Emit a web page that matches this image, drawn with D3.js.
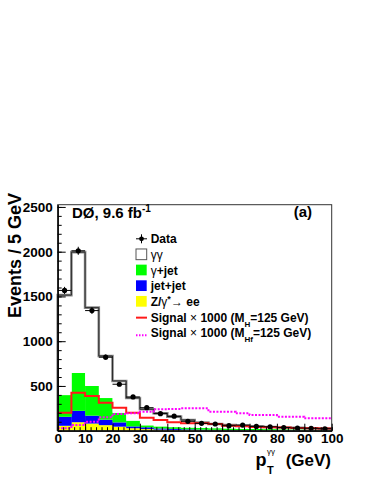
<!DOCTYPE html>
<html>
<head>
<meta charset="utf-8">
<script src="https://cdn.jsdelivr.net/npm/d3@7"></script>
<style>
  body { margin: 0; background: #fff; }
  svg { display: block; font-family: 'Liberation Sans', Arial, sans-serif; }
</style>
</head>
<body>
<div id="graf"></div>
<script>
// bin lower edges (GeV), 5 GeV wide bins
binEdges = [0,5,10,15,20,25,30,35,40,45,50,55,60,65,70,75,80,85,90,95]
binWidth = 5

// stacked backgrounds (events / bin)
zee     = [55, 95, 80, 62, 45, 28, 18, 12, 9, 7, 5, 4, 3, 3, 2, 2, 2, 1, 1, 1]
jetjet  = [100, 127, 88, 61, 48, 20, 20, 13, 11, 8, 7, 6, 5, 4, 4, 3, 3, 3, 3, 2]
gjet    = [243, 423, 332, 242, 107, 64, 22, 23, 20, 20, 18, 18, 17, 15, 14, 13, 11, 11, 9, 9]
gg      = [1117, 1350, 875, 470, 356, 254, 179, 147, 117, 85, 60, 47, 37, 33, 28, 24, 20, 17, 15, 13]

// data
dataVals = [1567, 2010, 1342, 821, 519, 377, 257, 190, 162, 105, 82, 75, 56, 63, 48, 44, 35, 30, 27, 22]
dataErr  = [40, 45, 37, 29, 23, 19, 16, 14, 13, 10, 9, 9, 7, 8, 7, 7, 6, 5, 5, 5]

// signals x 1000
sigH  = [201, 425, 388, 313, 257, 201, 145, 120, 94, 83, 83, 75, 55, 50, 42, 38, 35, 30, 28, 25]
sigHf = [27, 64, 101, 150, 187, 195, 213, 239, 243, 250, 250, 213, 213, 195, 175, 175, 157, 157, 139, 139]

yMajor = [500, 1000, 1500, 2000, 2500]
xMajor = [0, 10, 20, 30, 40, 50, 60, 70, 80, 90, 100]

ancho_total = 374
alto_total = 484

svg = d3.select('#graf').append('svg')
    .attr('width', ancho_total)
    .attr('height', alto_total)

svg.append('rect').attr('width', ancho_total).attr('height', alto_total).attr('fill', '#fff')

x = d3.scaleLinear().domain([0, 100]).range([57.7, 331.7])
y = d3.scaleLinear().domain([0, 2525]).range([430.7, 204.7])

// tabla para el stack
tabla = binEdges.map((e, i) => ({lo: e, zee: zee[i], jetjet: jetjet[i], gjet: gjet[i], gg: gg[i]}))
keys = ['zee', 'jetjet', 'gjet', 'gg']
colores = {zee: '#ffff00', jetjet: '#0000ff', gjet: '#00ff00', gg: '#ffffff'}
series = d3.stack().keys(keys)(tabla)

g = svg.append('g')

series.forEach(s => {
    g.selectAll(null)
     .data(s)
     .enter()
     .append('rect')
        .attr('x', d => x(d.data.lo))
        .attr('width', d => x(d.data.lo + binWidth) - x(d.data.lo) + 0.3)
        .attr('y', d => y(d[1]))
        .attr('height', d => y(d[0]) - y(d[1]))
        .attr('fill', colores[s.key])
})

// step helper
function pasos(vals) {
    pts = []
    vals.forEach((v, i) => {
        pts.push([binEdges[i], v])
        pts.push([binEdges[i] + binWidth, v])
    })
    return pts
}
linea = d3.line().x(d => x(d[0])).y(d => y(d[1]))

total = tabla.map(d => d.zee + d.jetjet + d.gjet + d.gg)
totPts = [[0, 0]].concat(pasos(total)).concat([[100, 0]])
g.append('path').attr('d', linea(totPts)).attr('fill', 'none')
 .attr('stroke', '#8a8a8a').attr('stroke-width', 2.6)
g.append('path').attr('d', linea(totPts)).attr('fill', 'none')
 .attr('stroke', '#222').attr('stroke-width', 0.9)

g.append('path').attr('d', linea(pasos(sigH))).attr('fill', 'none')
 .attr('stroke', '#ff1a1a').attr('stroke-width', 2)
g.append('path').attr('d', linea(pasos(sigHf))).attr('fill', 'none')
 .attr('stroke', '#ff00ff').attr('stroke-width', 2).attr('stroke-dasharray', '2,1.5')

// datos
puntos = g.selectAll('.pt').data(binEdges.map((e, i) => ({lo: e, v: dataVals[i], err: dataErr[i]})))
    .enter().append('g').attr('class', 'pt')
puntos.append('line')
    .attr('x1', d => x(d.lo)).attr('x2', d => x(d.lo + binWidth))
    .attr('y1', d => y(d.v)).attr('y2', d => y(d.v))
    .attr('stroke', '#000').attr('stroke-width', 1)
puntos.append('line')
    .attr('x1', d => x(d.lo + binWidth / 2)).attr('x2', d => x(d.lo + binWidth / 2))
    .attr('y1', d => y(d.v - d.err)).attr('y2', d => y(d.v + d.err))
    .attr('stroke', '#000').attr('stroke-width', 1)
puntos.append('circle')
    .attr('cx', d => x(d.lo + binWidth / 2)).attr('cy', d => y(d.v))
    .attr('r', 2.6).attr('fill', '#000')

// marco
svg.append('rect')
    .attr('x', x(0)).attr('y', y(2525))
    .attr('width', x(100) - x(0)).attr('height', y(0) - y(2525))
    .attr('fill', 'none').attr('stroke', '#333').attr('stroke-width', 1)

// ejes
ejeY = d3.axisLeft(y).tickValues(yMajor).tickFormat(d3.format('d')).tickSizeInner(-8).tickSizeOuter(0).tickPadding(5)
ejeYm = d3.axisLeft(y).tickValues(d3.range(0, 2525, 100)).tickSizeInner(-4).tickSizeOuter(0).tickFormat('')
ejeX = d3.axisBottom(x).tickValues(xMajor).tickFormat(d3.format('d')).tickSizeInner(-7).tickSizeOuter(0).tickPadding(3)
ejeXm = d3.axisBottom(x).tickValues(d3.range(0, 101, 2)).tickSizeInner(-3.5).tickSizeOuter(0).tickFormat('')

function estilo(sel) {
    sel.select('.domain').attr('stroke', '#000')
    sel.selectAll('.tick line').attr('stroke', '#000')
    sel.selectAll('text').attr('font-family', "'Liberation Sans', Arial, sans-serif")
       .attr('font-weight', 'bold').attr('font-size', 13.5).attr('fill', '#000')
}
svg.append('g').attr('transform', `translate(${x(0)},0)`).call(ejeYm).call(estilo)
svg.append('g').attr('transform', `translate(${x(0)},0)`).call(ejeY).call(estilo)
svg.append('g').attr('transform', `translate(0,${y(0)})`).call(ejeXm).call(estilo)
svg.append('g').attr('transform', `translate(0,${y(0)})`).call(ejeX).call(estilo)

// titulos de ejes
svg.append('text')
    .attr('transform', 'translate(20.5,193) rotate(-90)')
    .attr('text-anchor', 'end')
    .attr('font-weight', 'bold').attr('font-size', 18)
    .text('Events / 5 GeV')

xt = svg.append('text').attr('font-weight', 'bold')
xt.append('tspan').attr('x', 255.5).attr('y', 465.7).attr('font-size', 18).text('p')
xt.append('tspan').attr('x', 267).attr('y', 474).attr('font-size', 11).text('T')
xt.append('tspan').attr('x', 267).attr('y', 454).attr('font-size', 8).attr('font-weight', 'normal').text('γγ')
svg.append('text').attr('x', 331).attr('y', 465.7).attr('text-anchor', 'end')
    .attr('font-weight', 'bold').attr('font-size', 17).text('(GeV)')

// textos dentro
lab = svg.append('text').attr('x', 72).attr('y', 218)
    .attr('font-weight', 'bold').attr('font-size', 15)
lab.append('tspan').text('DØ, 9.6 fb')
lab.append('tspan').attr('dy', -6).attr('font-size', 10).text('-1')

svg.append('text').attr('x', 312).attr('y', 217).attr('text-anchor', 'end')
    .attr('font-weight', 'bold').attr('font-size', 15).text('(a)')

// leyenda
legX = 136, legTxt = 150.7, legY0 = 243.3, legDy = 15.67
leg = svg.append('g').attr('font-size', 12).attr('font-weight', 'bold')

function fila(i) { return legY0 + i * legDy }

// Data
leg.append('line').attr('x1', legX).attr('x2', legX + 11).attr('y1', fila(0) - 4.5).attr('y2', fila(0) - 4.5).attr('stroke', '#000')
leg.append('line').attr('x1', legX + 5.5).attr('x2', legX + 5.5).attr('y1', fila(0) - 9).attr('y2', fila(0)).attr('stroke', '#000')
leg.append('circle').attr('cx', legX + 5.5).attr('cy', fila(0) - 4.5).attr('r', 2.4).attr('fill', '#000')
leg.append('text').attr('x', legTxt).attr('y', fila(0)).text('Data')

cajas = [['gg', '#ffffff'], ['gjet', '#00ff00'], ['jetjet', '#0000ff'], ['zee', '#ffff00']]
cajas.forEach((c, k) => {
    leg.append('rect').attr('x', legX).attr('y', fila(k + 1) - 10).attr('width', 10.7).attr('height', 10.7)
       .attr('fill', c[1]).attr('stroke', c[0] == 'gg' ? '#555' : 'none').attr('stroke-width', 1)
})

t = leg.append('text').attr('x', legTxt).attr('y', fila(1))
t.append('tspan').attr('font-weight', 'normal').text('γγ')

t = leg.append('text').attr('x', legTxt).attr('y', fila(2))
t.append('tspan').attr('font-weight', 'normal').text('γ')
t.append('tspan').text('+jet')

leg.append('text').attr('x', legTxt).attr('y', fila(3)).text('jet+jet')

t = leg.append('text').attr('x', legTxt).attr('y', fila(4))
t.append('tspan').text('Z/')
t.append('tspan').attr('font-weight', 'normal').text('γ')
t.append('tspan').attr('dy', -4).attr('font-size', 9).text('*')
t.append('tspan').attr('dy', 4).attr('font-weight', 'normal').text('→ ')
t.append('tspan').text('ee')

leg.append('line').attr('x1', legX).attr('x2', legX + 11).attr('y1', fila(5) - 4).attr('y2', fila(5) - 4)
   .attr('stroke', '#ff1a1a').attr('stroke-width', 2)
leg.append('line').attr('x1', legX).attr('x2', legX + 11).attr('y1', fila(6) - 2).attr('y2', fila(6) - 2)
   .attr('stroke', '#ff00ff').attr('stroke-width', 2).attr('stroke-dasharray', '1.5,1.5')

function senal(i, sub) {
    t = leg.append('text').attr('x', legTxt).attr('y', fila(i))
    t.append('tspan').text('Signal')
    t.append('tspan').attr('font-weight', 'normal').text(' × ')
    t.append('tspan').text('1000 (M')
    t.append('tspan').attr('dy', 5).attr('font-size', 8).text(sub)
    t.append('tspan').attr('dy', -5).text('=125 GeV)')
}
senal(5, 'H')
senal(6, 'Hf')
</script>
</body>
</html>
